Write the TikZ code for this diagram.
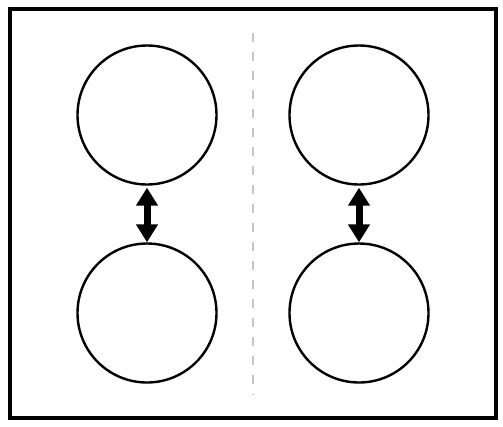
\documentclass[tikz,border=0pt]{standalone}
\usepackage{xcolor}
\usetikzlibrary{arrows.meta,positioning}

\tikzset{
	ball/.style={draw, circle, line width=2.4pt, minimum size=139pt, inner sep=0pt},
	swap/.style={line width=7pt, {Triangle[width=21pt,length=18pt]}-{Triangle[width=21pt,length=18pt]}}
}

\begin{document}
\begin{tikzpicture}[x=1pt,y=-1pt]
	\useasboundingbox (0,0) rectangle (503,426);

	% Drawing frame
	\draw [line width=4pt] (10,9) rectangle (495.5,418);%

	% Drawing dashed divider
	\draw [gray!45, line width=1.6pt, dash pattern=on 9pt off 10pt] (253,33) -- (253,395);%

	% Marking left pair of circles
	\node [ball] (lt) at (147,115) {};%
	\node [ball] (lb) at (147,313) {};%

	% Marking right pair of circles
	\node [ball] (rt) at (359,115) {};%
	\node [ball] (rb) at (359,313) {};%

	% Drawing arrows between circles
	\draw [swap, shorten <=2pt] (lt.south) -- (lb.north);%
	\draw [swap, shorten <=2pt] (rt.south) -- (rb.north);%
\end{tikzpicture}
\end{document}
